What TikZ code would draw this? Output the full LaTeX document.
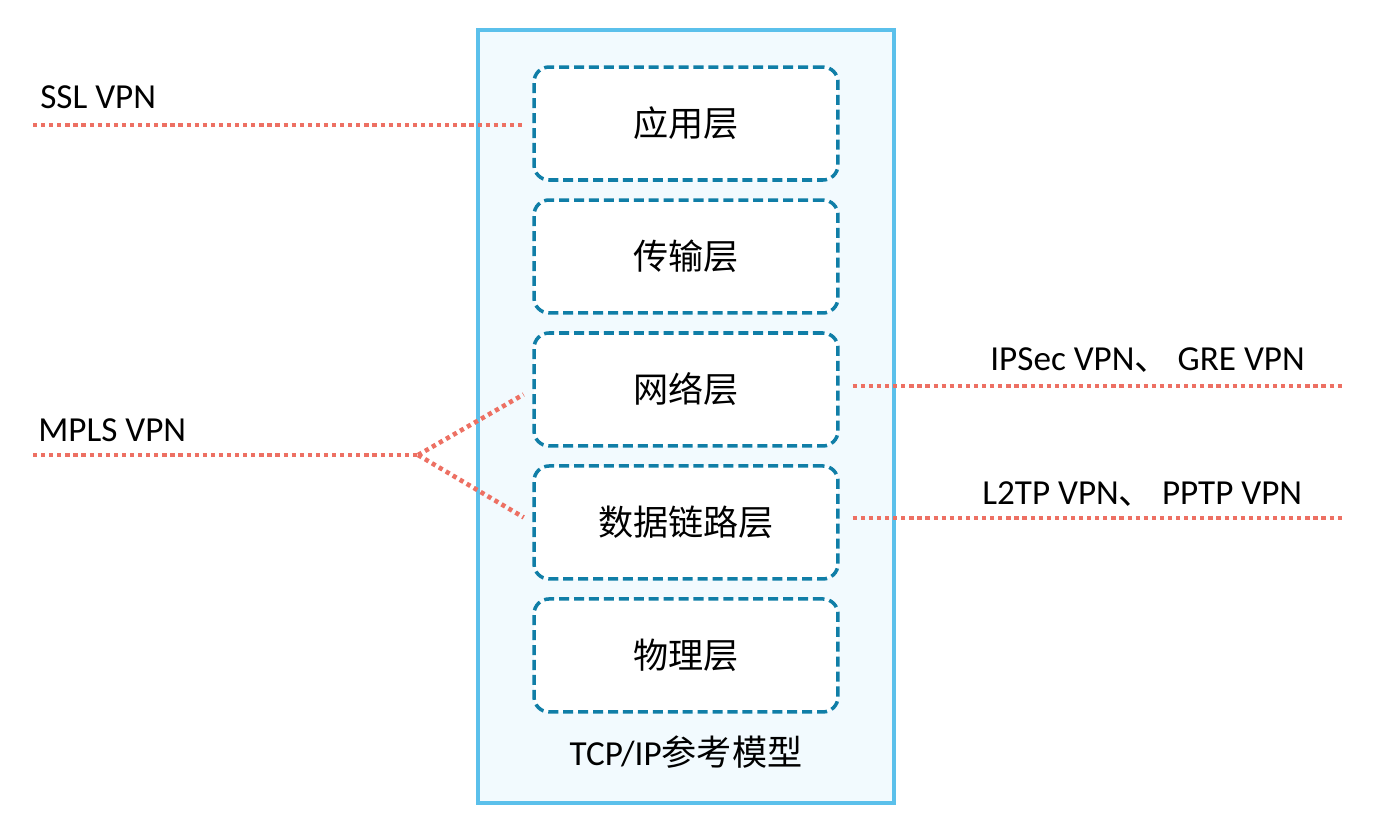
\documentclass[tikz,border=0pt]{standalone}
\usepackage{fontspec}
\setmainfont{Carlito}
\newfontfamily\cjk{Noto Sans CJK SC}
\usepackage{tikz}
\usetikzlibrary{positioning}
\definecolor{frameblue}{RGB}{91,192,235}
\definecolor{framefill}{RGB}{242,250,254}
\definecolor{layerblue}{RGB}{16,126,167}
\definecolor{vpnred}{RGB}{237,112,99}

\tikzset{
  layer/.style={draw=layerblue, line width=2pt, dash pattern=on 5.7pt off 2.8pt,
    rounded corners=0.3cm, fill=white, minimum width=6.08cm, minimum height=2.26cm,
    inner sep=0pt, font=\fontsize{20}{24}\selectfont\cjk},
  vpn/.style={draw=vpnred, line width=2.6pt, dash pattern=on 2.4pt off 2.2pt},
  lbl/.style={inner sep=0pt, anchor=west}
}

\begin{document}
\begin{tikzpicture}[x=0.02cm, y=-0.02cm, font=\fontsize{20}{24}\selectfont, node distance=0.33cm]
  \useasboundingbox (0,0) rectangle (1379,826);
  % outer frame
  \draw[frameblue, fill=framefill, line width=2pt] (478,30) rectangle (894,803);
  \node[inner sep=0pt] (model) at (686,752) {TCP/IP{\cjk 参考模型}};

  % layers
  \node[layer] (app) at (686,123.5) {应用层};
  \node[layer, below=of app] (trans) {传输层};
  \node[layer, below=of trans] (net) {网络层};
  \node[layer, below=of net] (link) {数据链路层};
  \node[layer, below=of link] (phy) {物理层};

  % vpn lines
  \coordinate (sslend) at (33,125);
  \coordinate (mplsend) at (33,455);
  \coordinate (split) at (418,455);
  \coordinate (ipsecend) at (1343,386);
  \coordinate (l2tpend) at (1343,518);

  \node[lbl] (ssl) at (40,97) {SSL VPN};
  \node[lbl] (mpls) at (38,430) {MPLS VPN};
  \node[lbl] (ipsec) at (990,360) {IPSec VPN{\cjk 、} GRE VPN};
  \node[lbl] (l2tp) at (982,494) {L2TP VPN{\cjk 、} PPTP VPN};

  \draw[vpn, shorten >=0.2cm] (sslend) -- (sslend -| app.west);
  \draw[vpn] (mplsend) -- (split);
  \draw[vpn, shorten >=0.2cm] (split) -- (net.west);
  \draw[vpn, shorten >=0.2cm] (split) -- (link.west);
  \draw[vpn, shorten <=0.26cm] (net.east |- ipsecend) -- (ipsecend);
  \draw[vpn, shorten <=0.26cm] (link.east |- l2tpend) -- (l2tpend);
\end{tikzpicture}
\end{document}
